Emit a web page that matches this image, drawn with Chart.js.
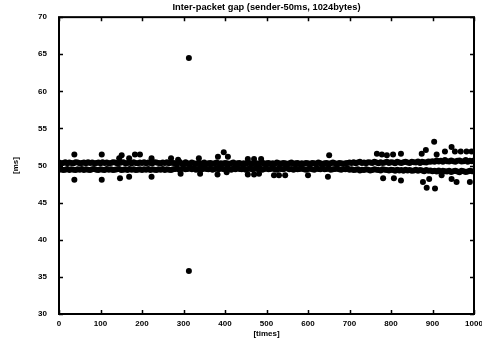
<!DOCTYPE html>
<html>
<head>
<meta charset="utf-8">
<script src="https://cdn.jsdelivr.net/npm/chart.js@4"></script>
<style>
  html, body { margin: 0; padding: 0; background: #fff; overflow: hidden; }
  #wrap { position: absolute; left: 0; top: 0; width: 490px; height: 341px; }
</style>
</head>
<body>
<div id="wrap"><canvas id="chart" width="490" height="341"></canvas></div>
<script>
// tick labels
const xTicks = [0, 100, 200, 300, 400, 500, 600, 700, 800, 900, 1000];
const yTicks = [30, 35, 40, 45, 50, 55, 60, 65, 70];

// the two dense lines of the band, one sample every 5 packets (0..1000)
const bandStep = 5;
const bandUpper = [
  50.4,50.3,50.35,50.45,50.3,50.4,50.35,50.3,50.45,50.4,50.3,50.35,50.4,50.3,50.45,50.35,50.4,50.3,50.35,50.4,
  50.3,50.45,50.35,50.4,50.3,50.35,50.45,50.4,50.3,50.35,50.4,50.45,50.3,50.35,50.4,50.3,50.45,50.35,50.3,50.4,
  50.35,50.45,50.3,50.4,50.35,50.3,50.45,50.4,50.35,50.3,50.4,50.35,50.45,50.3,50.4,50.35,50.3,50.25,50.5,50.3,
  50.2,50.45,50.3,50.25,50.4,50.3,50.2,50.35,50.3,50.25,50.4,50.2,50.3,50.35,50.25,50.3,50.4,50.2,50.3,50.25,
  50.35,50.3,50.2,50.3,50.4,50.25,50.3,50.35,50.2,50.3,50.25,50.4,50.3,50.2,50.35,50.3,50.25,50.3,50.4,50.2,
  50.3,50.35,50.25,50.3,50.2,50.4,50.3,50.25,50.35,50.3,50.2,50.3,50.4,50.25,50.3,50.35,50.2,50.3,50.25,50.35,
  50.3,50.2,50.35,50.3,50.25,50.4,50.3,50.2,50.3,50.35,50.25,50.3,50.4,50.3,50.2,50.35,50.3,50.25,50.3,50.35,
  50.4,50.35,50.45,50.3,50.4,50.5,50.35,50.4,50.3,50.45,50.4,50.35,50.5,50.4,50.3,50.45,50.35,50.4,50.5,50.35,
  50.45,50.4,50.3,50.5,50.4,50.35,50.45,50.5,50.4,50.35,50.5,50.45,50.4,50.55,50.35,50.5,50.45,50.4,50.55,50.5,
  50.6,50.5,50.7,50.55,50.65,50.5,50.75,50.6,50.55,50.7,50.6,50.5,50.65,50.7,50.55,50.6,50.75,50.5,50.65,50.6,50.7
];
const bandLower = [
  49.45,49.5,49.4,49.45,49.55,49.4,49.5,49.45,49.4,49.5,49.45,49.55,49.4,49.5,49.45,49.4,49.5,49.55,49.45,49.4,
  49.5,49.45,49.4,49.55,49.45,49.5,49.4,49.45,49.5,49.55,49.4,49.45,49.5,49.4,49.55,49.45,49.5,49.4,49.45,49.5,
  49.4,49.5,49.45,49.55,49.4,49.5,49.45,49.4,49.5,49.45,49.55,49.4,49.5,49.45,49.4,49.5,49.55,49.6,49.45,49.55,
  49.6,49.5,49.55,49.65,49.5,49.6,49.45,49.55,49.6,49.5,49.65,49.55,49.5,49.6,49.45,49.55,49.6,49.5,49.65,49.55,
  49.5,49.6,49.55,49.45,49.6,49.5,49.65,49.55,49.5,49.6,49.45,49.55,49.6,49.5,49.55,49.65,49.5,49.6,49.45,49.55,
  49.6,49.5,49.55,49.65,49.5,49.45,49.6,49.55,49.5,49.6,49.65,49.5,49.55,49.45,49.6,49.5,49.55,49.6,49.5,49.45,
  49.55,49.6,49.5,49.45,49.6,49.55,49.5,49.65,49.5,49.55,49.6,49.45,49.5,49.55,49.6,49.5,49.45,49.55,49.5,49.6,
  49.45,49.5,49.4,49.45,49.5,49.35,49.45,49.4,49.5,49.45,49.35,49.4,49.5,49.45,49.4,49.35,49.5,49.45,49.4,49.35,
  49.45,49.4,49.3,49.45,49.35,49.4,49.3,49.45,49.35,49.4,49.3,49.35,49.45,49.3,49.4,49.35,49.25,49.4,49.3,49.35,
  49.25,49.3,49.2,49.35,49.15,49.3,49.25,49.2,49.3,49.15,49.25,49.3,49.2,49.1,49.3,49.25,49.15,49.2,49.3,49.25,49.2
];

// scattered points above the band
const highTimes  = [37, 103, 145, 151, 169, 183, 195, 223, 270, 287, 337, 383, 397, 407, 455, 470, 487, 651, 766, 778, 790, 805, 824, 874, 884, 904, 910, 930, 946, 954, 968, 982, 994];
const highValues = [51.5, 51.5, 51.0, 51.4, 51.0, 51.5, 51.5, 51.0, 51.0, 50.8, 51.0, 51.2, 51.8, 51.2, 50.9, 50.9, 50.9, 51.4, 51.6, 51.5, 51.4, 51.5, 51.6, 51.6, 52.1, 53.2, 51.5, 51.9, 52.5, 51.9, 51.9, 51.9, 51.9];

// scattered points below the band
const lowTimes  = [37, 103, 147, 169, 223, 293, 340, 382, 404, 455, 470, 482, 518, 530, 545, 600, 648, 781, 807, 824, 877, 886, 892, 906, 922, 946, 958, 990];
const lowValues = [48.1, 48.1, 48.3, 48.5, 48.5, 48.9, 48.9, 48.8, 49.1, 48.8, 48.8, 48.9, 48.7, 48.7, 48.7, 48.7, 48.5, 48.3, 48.3, 48.0, 47.8, 47.0, 48.2, 46.9, 48.7, 48.2, 47.8, 47.8];

// the two big spikes
const spikeTimes  = [313, 313];
const spikeValues = [64.5, 35.8];

const toPoints = (xs, ys) => ys.map((y, i) => ({ x: xs[i], y }));
const bandTimes = bandUpper.map((_, i) => i * bandStep);

const font = { family: "'Liberation Sans', Arial, sans-serif", size: 8, weight: 'bold' };

// frame with inward tick marks on all four sides
const framePlugin = {
  id: 'frame',
  afterDraw(chart) {
    const { ctx, chartArea: a, scales } = chart;
    ctx.save();
    ctx.strokeStyle = '#000';
    ctx.lineWidth = 1.5;
    xTicks.forEach(v => {
      const px = Math.round(scales.x.getPixelForValue(v)) + 0.5;
      ctx.beginPath();
      ctx.moveTo(px, a.bottom); ctx.lineTo(px, a.bottom - 4);
      ctx.moveTo(px, a.top); ctx.lineTo(px, a.top + 4);
      ctx.stroke();
    });
    yTicks.forEach(v => {
      const py = Math.round(scales.y.getPixelForValue(v)) + 0.5;
      ctx.beginPath();
      ctx.moveTo(a.left, py); ctx.lineTo(a.left + 4, py);
      ctx.moveTo(a.right, py); ctx.lineTo(a.right - 4, py);
      ctx.stroke();
    });
    ctx.lineWidth = 2;
    ctx.strokeRect(a.left, a.top, a.right - a.left, a.bottom - a.top);
    ctx.restore();
  }
};

const dotStyle = { backgroundColor: '#000', borderColor: '#000', borderWidth: 0, pointRadius: 3, pointHoverRadius: 3 };

new Chart(document.getElementById('chart'), {
  type: 'scatter',
  data: {
    datasets: [
      Object.assign({ label: 'upper', data: toPoints(bandTimes, bandUpper) }, dotStyle),
      Object.assign({ label: 'lower', data: toPoints(bandTimes, bandLower) }, dotStyle),
      Object.assign({ label: 'high', data: toPoints(highTimes, highValues) }, dotStyle),
      Object.assign({ label: 'low', data: toPoints(lowTimes, lowValues) }, dotStyle),
      Object.assign({ label: 'spikes', data: toPoints(spikeTimes, spikeValues) }, dotStyle)
    ]
  },
  options: {
    responsive: false,
    animation: false,
    events: [],
    layout: { padding: { left: 0, right: 16, top: 0, bottom: 0 } },
    plugins: {
      legend: { display: false },
      tooltip: { enabled: false },
      title: {
        display: true,
        fullSize: false,
        text: 'Inter-packet gap (sender-50ms, 1024bytes)',
        color: '#000',
        font: Object.assign({}, font, { size: 9.3 }),
        padding: { top: 2, bottom: 4 }
      }
    },
    scales: {
      x: {
        type: 'linear',
        min: 0,
        max: 1000,
        afterBuildTicks: s => { s.ticks = xTicks.map(v => ({ value: v })); },
        afterFit: s => { s.height = 27; },
        grid: { display: false, drawTicks: false },
        border: { display: false },
        ticks: { color: '#000', font: font, padding: 5, maxRotation: 0, callback: v => String(v) },
        title: { display: true, text: '[times]', color: '#000', font: font, padding: { top: 0, bottom: 2 } }
      },
      y: {
        min: 30,
        max: 70,
        afterBuildTicks: s => { s.ticks = yTicks.map(v => ({ value: v })); },
        afterFit: s => { s.width = 59; },
        grid: { display: false, drawTicks: false },
        border: { display: false },
        ticks: { color: '#000', font: font, padding: 12, callback: v => String(v) },
        title: { display: true, text: '[ms]', color: '#000', font: font, padding: { top: 11, bottom: 0 } }
      }
    }
  },
  plugins: [framePlugin]
});
</script>
</body>
</html>
